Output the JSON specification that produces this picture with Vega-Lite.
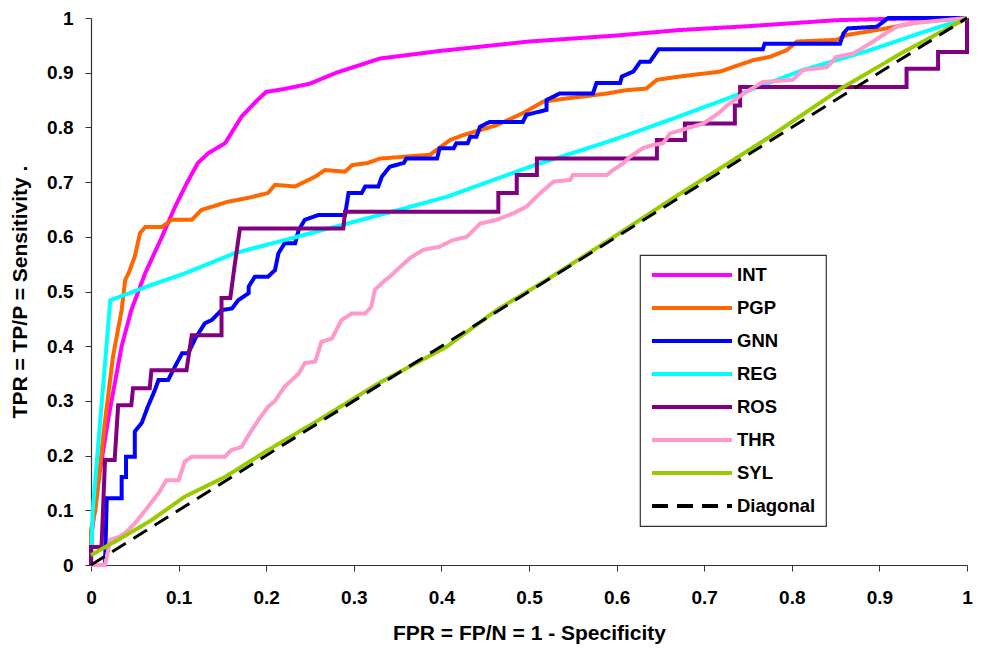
{
  "$schema": "https://vega.github.io/schema/vega-lite/v6.json",
  "width": 876,
  "height": 547,
  "autosize": {"type": "none"},
  "padding": {"left": 91, "top": 18, "right": 14, "bottom": 87},
  "background": "#ffffff",
  "config": {
    "view": {"stroke": null},
    "font": "Liberation Sans",
    "axis": {
      "grid": false,
      "labelFlush": false,
      "domainColor": "#333333",
      "domainWidth": 1.2,
      "tickColor": "#333333",
      "tickSize": 6,
      "labelFont": "Liberation Sans",
      "labelFontWeight": "bold",
      "labelFontSize": 19,
      "labelColor": "#000000",
      "titleFont": "Liberation Sans",
      "titleFontWeight": "bold",
      "titleFontSize": 21,
      "titleColor": "#000000"
    },
    "legend": {
      "orient": "none",
      "legendX": 549,
      "legendY": 237,
      "strokeColor": "#333333",
      "strokeWidth": 1.2,
      "fillColor": "#ffffff",
      "padding": 10,
      "symbolType": "stroke",
      "symbolSize": 6400,
      "symbolStrokeWidth": 4,
      "clipHeight": 20,
      "labelFont": "Liberation Sans",
      "labelFontWeight": "bold",
      "labelFontSize": 18.5,
      "labelColor": "#000000",
      "labelOffset": 3,
      "rowPadding": 13,
      "title": null
    }
  },
  "data": {
    "values": [
      {"model":"INT","i":0,"x":0,"y":0},{"model":"INT","i":1,"x":0.001,"y":0.06},{"model":"INT","i":2,"x":0.01,"y":0.17},{"model":"INT","i":3,"x":0.02,"y":0.27},{"model":"INT","i":4,"x":0.035,"y":0.4},{"model":"INT","i":5,"x":0.046,"y":0.466},{"model":"INT","i":6,"x":0.062,"y":0.534},{"model":"INT","i":7,"x":0.081,"y":0.6},{"model":"INT","i":8,"x":0.096,"y":0.655},{"model":"INT","i":9,"x":0.11,"y":0.7},{"model":"INT","i":10,"x":0.122,"y":0.735},{"model":"INT","i":11,"x":0.134,"y":0.753},{"model":"INT","i":12,"x":0.153,"y":0.771},{"model":"INT","i":13,"x":0.172,"y":0.82},{"model":"INT","i":14,"x":0.19,"y":0.85},{"model":"INT","i":15,"x":0.2,"y":0.865},{"model":"INT","i":16,"x":0.22,"y":0.87},{"model":"INT","i":17,"x":0.25,"y":0.88},{"model":"INT","i":18,"x":0.28,"y":0.9},{"model":"INT","i":19,"x":0.33,"y":0.926},{"model":"INT","i":20,"x":0.4,"y":0.94},{"model":"INT","i":21,"x":0.5,"y":0.957},{"model":"INT","i":22,"x":0.6,"y":0.968},{"model":"INT","i":23,"x":0.672,"y":0.978},{"model":"INT","i":24,"x":0.75,"y":0.985},{"model":"INT","i":25,"x":0.851,"y":0.996},{"model":"INT","i":26,"x":0.9,"y":0.998},{"model":"INT","i":27,"x":1,"y":1},

      {"model":"PGP","i":0,"x":0,"y":0},{"model":"PGP","i":1,"x":0,"y":0.064},{"model":"PGP","i":2,"x":0.005,"y":0.1},{"model":"PGP","i":3,"x":0.015,"y":0.25},{"model":"PGP","i":4,"x":0.025,"y":0.38},{"model":"PGP","i":5,"x":0.035,"y":0.466},{"model":"PGP","i":6,"x":0.039,"y":0.521},{"model":"PGP","i":7,"x":0.043,"y":0.534},{"model":"PGP","i":8,"x":0.05,"y":0.564},{"model":"PGP","i":9,"x":0.056,"y":0.607},{"model":"PGP","i":10,"x":0.062,"y":0.618},{"model":"PGP","i":11,"x":0.081,"y":0.618},{"model":"PGP","i":12,"x":0.092,"y":0.631},{"model":"PGP","i":13,"x":0.115,"y":0.631},{"model":"PGP","i":14,"x":0.126,"y":0.649},{"model":"PGP","i":15,"x":0.156,"y":0.664},{"model":"PGP","i":16,"x":0.179,"y":0.671},{"model":"PGP","i":17,"x":0.202,"y":0.68},{"model":"PGP","i":18,"x":0.21,"y":0.695},{"model":"PGP","i":19,"x":0.233,"y":0.692},{"model":"PGP","i":20,"x":0.256,"y":0.71},{"model":"PGP","i":21,"x":0.267,"y":0.722},{"model":"PGP","i":22,"x":0.29,"y":0.719},{"model":"PGP","i":23,"x":0.298,"y":0.731},{"model":"PGP","i":24,"x":0.316,"y":0.735},{"model":"PGP","i":25,"x":0.33,"y":0.743},{"model":"PGP","i":26,"x":0.387,"y":0.75},{"model":"PGP","i":27,"x":0.41,"y":0.777},{"model":"PGP","i":28,"x":0.425,"y":0.786},{"model":"PGP","i":29,"x":0.463,"y":0.804},{"model":"PGP","i":30,"x":0.493,"y":0.826},{"model":"PGP","i":31,"x":0.516,"y":0.847},{"model":"PGP","i":32,"x":0.543,"y":0.853},{"model":"PGP","i":33,"x":0.57,"y":0.858},{"model":"PGP","i":34,"x":0.589,"y":0.862},{"model":"PGP","i":35,"x":0.611,"y":0.868},{"model":"PGP","i":36,"x":0.634,"y":0.871},{"model":"PGP","i":37,"x":0.646,"y":0.887},{"model":"PGP","i":38,"x":0.672,"y":0.893},{"model":"PGP","i":39,"x":0.718,"y":0.902},{"model":"PGP","i":40,"x":0.756,"y":0.923},{"model":"PGP","i":41,"x":0.775,"y":0.929},{"model":"PGP","i":42,"x":0.794,"y":0.941},{"model":"PGP","i":43,"x":0.806,"y":0.957},{"model":"PGP","i":44,"x":0.851,"y":0.96},{"model":"PGP","i":45,"x":0.863,"y":0.969},{"model":"PGP","i":46,"x":0.908,"y":0.981},{"model":"PGP","i":47,"x":0.946,"y":0.993},{"model":"PGP","i":48,"x":1,"y":1},

      {"model":"GNN","i":0,"x":0,"y":0},{"model":"GNN","i":1,"x":0.016,"y":0},{"model":"GNN","i":2,"x":0.018,"y":0.122},{"model":"GNN","i":3,"x":0.035,"y":0.122},{"model":"GNN","i":4,"x":0.035,"y":0.161},{"model":"GNN","i":5,"x":0.04,"y":0.161},{"model":"GNN","i":6,"x":0.04,"y":0.198},{"model":"GNN","i":7,"x":0.05,"y":0.198},{"model":"GNN","i":8,"x":0.05,"y":0.244},{"model":"GNN","i":9,"x":0.058,"y":0.26},{"model":"GNN","i":10,"x":0.065,"y":0.29},{"model":"GNN","i":11,"x":0.073,"y":0.32},{"model":"GNN","i":12,"x":0.077,"y":0.338},{"model":"GNN","i":13,"x":0.088,"y":0.338},{"model":"GNN","i":14,"x":0.095,"y":0.36},{"model":"GNN","i":15,"x":0.104,"y":0.387},{"model":"GNN","i":16,"x":0.111,"y":0.387},{"model":"GNN","i":17,"x":0.119,"y":0.414},{"model":"GNN","i":18,"x":0.13,"y":0.442},{"model":"GNN","i":19,"x":0.138,"y":0.448},{"model":"GNN","i":20,"x":0.149,"y":0.466},{"model":"GNN","i":21,"x":0.161,"y":0.469},{"model":"GNN","i":22,"x":0.168,"y":0.484},{"model":"GNN","i":23,"x":0.18,"y":0.497},{"model":"GNN","i":24,"x":0.18,"y":0.509},{"model":"GNN","i":25,"x":0.187,"y":0.527},{"model":"GNN","i":26,"x":0.202,"y":0.527},{"model":"GNN","i":27,"x":0.21,"y":0.539},{"model":"GNN","i":28,"x":0.214,"y":0.57},{"model":"GNN","i":29,"x":0.221,"y":0.588},{"model":"GNN","i":30,"x":0.233,"y":0.588},{"model":"GNN","i":31,"x":0.237,"y":0.612},{"model":"GNN","i":32,"x":0.244,"y":0.631},{"model":"GNN","i":33,"x":0.26,"y":0.64},{"model":"GNN","i":34,"x":0.29,"y":0.64},{"model":"GNN","i":35,"x":0.294,"y":0.68},{"model":"GNN","i":36,"x":0.309,"y":0.68},{"model":"GNN","i":37,"x":0.313,"y":0.692},{"model":"GNN","i":38,"x":0.328,"y":0.692},{"model":"GNN","i":39,"x":0.332,"y":0.71},{"model":"GNN","i":40,"x":0.341,"y":0.728},{"model":"GNN","i":41,"x":0.357,"y":0.735},{"model":"GNN","i":42,"x":0.36,"y":0.743},{"model":"GNN","i":43,"x":0.395,"y":0.743},{"model":"GNN","i":44,"x":0.398,"y":0.762},{"model":"GNN","i":45,"x":0.414,"y":0.762},{"model":"GNN","i":46,"x":0.417,"y":0.771},{"model":"GNN","i":47,"x":0.43,"y":0.771},{"model":"GNN","i":48,"x":0.433,"y":0.783},{"model":"GNN","i":49,"x":0.44,"y":0.783},{"model":"GNN","i":50,"x":0.444,"y":0.801},{"model":"GNN","i":51,"x":0.455,"y":0.81},{"model":"GNN","i":52,"x":0.493,"y":0.81},{"model":"GNN","i":53,"x":0.497,"y":0.823},{"model":"GNN","i":54,"x":0.52,"y":0.832},{"model":"GNN","i":55,"x":0.52,"y":0.85},{"model":"GNN","i":56,"x":0.535,"y":0.862},{"model":"GNN","i":57,"x":0.573,"y":0.862},{"model":"GNN","i":58,"x":0.577,"y":0.881},{"model":"GNN","i":59,"x":0.604,"y":0.881},{"model":"GNN","i":60,"x":0.606,"y":0.893},{"model":"GNN","i":61,"x":0.619,"y":0.902},{"model":"GNN","i":62,"x":0.627,"y":0.92},{"model":"GNN","i":63,"x":0.638,"y":0.92},{"model":"GNN","i":64,"x":0.648,"y":0.943},{"model":"GNN","i":65,"x":0.767,"y":0.943},{"model":"GNN","i":66,"x":0.769,"y":0.953},{"model":"GNN","i":67,"x":0.855,"y":0.953},{"model":"GNN","i":68,"x":0.859,"y":0.972},{"model":"GNN","i":69,"x":0.864,"y":0.981},{"model":"GNN","i":70,"x":0.897,"y":0.984},{"model":"GNN","i":71,"x":0.91,"y":1},{"model":"GNN","i":72,"x":1,"y":1},

      {"model":"REG","i":0,"x":0,"y":0},{"model":"REG","i":1,"x":0.002,"y":0.1},{"model":"REG","i":2,"x":0.022,"y":0.484},{"model":"REG","i":3,"x":0.069,"y":0.512},{"model":"REG","i":4,"x":0.107,"y":0.533},{"model":"REG","i":5,"x":0.164,"y":0.57},{"model":"REG","i":6,"x":0.221,"y":0.594},{"model":"REG","i":7,"x":0.33,"y":0.64},{"model":"REG","i":8,"x":0.406,"y":0.673},{"model":"REG","i":9,"x":0.501,"y":0.728},{"model":"REG","i":10,"x":0.596,"y":0.777},{"model":"REG","i":11,"x":0.661,"y":0.814},{"model":"REG","i":12,"x":0.737,"y":0.859},{"model":"REG","i":13,"x":0.813,"y":0.905},{"model":"REG","i":14,"x":0.889,"y":0.941},{"model":"REG","i":15,"x":0.946,"y":0.972},{"model":"REG","i":16,"x":1,"y":1},

      {"model":"ROS","i":0,"x":0,"y":0},{"model":"ROS","i":1,"x":0,"y":0.033},{"model":"ROS","i":2,"x":0.012,"y":0.033},{"model":"ROS","i":3,"x":0.016,"y":0.192},{"model":"ROS","i":4,"x":0.027,"y":0.192},{"model":"ROS","i":5,"x":0.031,"y":0.292},{"model":"ROS","i":6,"x":0.046,"y":0.292},{"model":"ROS","i":7,"x":0.048,"y":0.323},{"model":"ROS","i":8,"x":0.067,"y":0.323},{"model":"ROS","i":9,"x":0.069,"y":0.356},{"model":"ROS","i":10,"x":0.109,"y":0.356},{"model":"ROS","i":11,"x":0.115,"y":0.42},{"model":"ROS","i":12,"x":0.149,"y":0.42},{"model":"ROS","i":13,"x":0.149,"y":0.488},{"model":"ROS","i":14,"x":0.159,"y":0.488},{"model":"ROS","i":15,"x":0.164,"y":0.548},{"model":"ROS","i":16,"x":0.17,"y":0.615},{"model":"ROS","i":17,"x":0.288,"y":0.615},{"model":"ROS","i":18,"x":0.29,"y":0.646},{"model":"ROS","i":19,"x":0.465,"y":0.646},{"model":"ROS","i":20,"x":0.465,"y":0.68},{"model":"ROS","i":21,"x":0.486,"y":0.68},{"model":"ROS","i":22,"x":0.486,"y":0.713},{"model":"ROS","i":23,"x":0.509,"y":0.713},{"model":"ROS","i":24,"x":0.509,"y":0.743},{"model":"ROS","i":25,"x":0.646,"y":0.743},{"model":"ROS","i":26,"x":0.646,"y":0.777},{"model":"ROS","i":27,"x":0.678,"y":0.777},{"model":"ROS","i":28,"x":0.678,"y":0.807},{"model":"ROS","i":29,"x":0.735,"y":0.807},{"model":"ROS","i":30,"x":0.735,"y":0.84},{"model":"ROS","i":31,"x":0.741,"y":0.84},{"model":"ROS","i":32,"x":0.741,"y":0.874},{"model":"ROS","i":33,"x":0.931,"y":0.874},{"model":"ROS","i":34,"x":0.931,"y":0.907},{"model":"ROS","i":35,"x":0.967,"y":0.907},{"model":"ROS","i":36,"x":0.967,"y":0.938},{"model":"ROS","i":37,"x":1,"y":0.938},{"model":"ROS","i":38,"x":1,"y":1},

      {"model":"THR","i":0,"x":0,"y":0},{"model":"THR","i":1,"x":0.016,"y":0},{"model":"THR","i":2,"x":0.022,"y":0.046},{"model":"THR","i":3,"x":0.033,"y":0.052},{"model":"THR","i":4,"x":0.04,"y":0.06},{"model":"THR","i":5,"x":0.05,"y":0.076},{"model":"THR","i":6,"x":0.062,"y":0.1},{"model":"THR","i":7,"x":0.077,"y":0.131},{"model":"THR","i":8,"x":0.086,"y":0.155},{"model":"THR","i":9,"x":0.1,"y":0.155},{"model":"THR","i":10,"x":0.107,"y":0.189},{"model":"THR","i":11,"x":0.115,"y":0.198},{"model":"THR","i":12,"x":0.153,"y":0.198},{"model":"THR","i":13,"x":0.16,"y":0.21},{"model":"THR","i":14,"x":0.172,"y":0.216},{"model":"THR","i":15,"x":0.18,"y":0.238},{"model":"THR","i":16,"x":0.191,"y":0.265},{"model":"THR","i":17,"x":0.202,"y":0.289},{"model":"THR","i":18,"x":0.21,"y":0.3},{"model":"THR","i":19,"x":0.221,"y":0.326},{"model":"THR","i":20,"x":0.237,"y":0.35},{"model":"THR","i":21,"x":0.244,"y":0.369},{"model":"THR","i":22,"x":0.256,"y":0.372},{"model":"THR","i":23,"x":0.263,"y":0.408},{"model":"THR","i":24,"x":0.275,"y":0.414},{"model":"THR","i":25,"x":0.286,"y":0.448},{"model":"THR","i":26,"x":0.298,"y":0.46},{"model":"THR","i":27,"x":0.313,"y":0.46},{"model":"THR","i":28,"x":0.32,"y":0.472},{"model":"THR","i":29,"x":0.324,"y":0.503},{"model":"THR","i":30,"x":0.336,"y":0.521},{"model":"THR","i":31,"x":0.341,"y":0.527},{"model":"THR","i":32,"x":0.353,"y":0.545},{"model":"THR","i":33,"x":0.364,"y":0.561},{"model":"THR","i":34,"x":0.379,"y":0.576},{"model":"THR","i":35,"x":0.398,"y":0.582},{"model":"THR","i":36,"x":0.413,"y":0.594},{"model":"THR","i":37,"x":0.429,"y":0.6},{"model":"THR","i":38,"x":0.444,"y":0.624},{"model":"THR","i":39,"x":0.463,"y":0.631},{"model":"THR","i":40,"x":0.482,"y":0.643},{"model":"THR","i":41,"x":0.497,"y":0.655},{"model":"THR","i":42,"x":0.513,"y":0.68},{"model":"THR","i":43,"x":0.528,"y":0.701},{"model":"THR","i":44,"x":0.547,"y":0.704},{"model":"THR","i":45,"x":0.55,"y":0.713},{"model":"THR","i":46,"x":0.589,"y":0.713},{"model":"THR","i":47,"x":0.596,"y":0.722},{"model":"THR","i":48,"x":0.608,"y":0.735},{"model":"THR","i":49,"x":0.615,"y":0.746},{"model":"THR","i":50,"x":0.63,"y":0.762},{"model":"THR","i":51,"x":0.642,"y":0.768},{"model":"THR","i":52,"x":0.653,"y":0.771},{"model":"THR","i":53,"x":0.661,"y":0.789},{"model":"THR","i":54,"x":0.68,"y":0.798},{"model":"THR","i":55,"x":0.699,"y":0.807},{"model":"THR","i":56,"x":0.71,"y":0.819},{"model":"THR","i":57,"x":0.718,"y":0.828},{"model":"THR","i":58,"x":0.726,"y":0.84},{"model":"THR","i":59,"x":0.745,"y":0.862},{"model":"THR","i":60,"x":0.767,"y":0.883},{"model":"THR","i":61,"x":0.801,"y":0.887},{"model":"THR","i":62,"x":0.813,"y":0.905},{"model":"THR","i":63,"x":0.84,"y":0.91},{"model":"THR","i":64,"x":0.851,"y":0.929},{"model":"THR","i":65,"x":0.87,"y":0.935},{"model":"THR","i":66,"x":0.889,"y":0.953},{"model":"THR","i":67,"x":0.904,"y":0.969},{"model":"THR","i":68,"x":0.92,"y":0.984},{"model":"THR","i":69,"x":0.935,"y":0.99},{"model":"THR","i":70,"x":0.954,"y":0.993},{"model":"THR","i":71,"x":1,"y":1},

      {"model":"SYL","i":0,"x":0,"y":0.018},{"model":"SYL","i":1,"x":0.031,"y":0.046},{"model":"SYL","i":2,"x":0.069,"y":0.082},{"model":"SYL","i":3,"x":0.107,"y":0.125},{"model":"SYL","i":4,"x":0.153,"y":0.161},{"model":"SYL","i":5,"x":0.202,"y":0.21},{"model":"SYL","i":6,"x":0.26,"y":0.265},{"model":"SYL","i":7,"x":0.328,"y":0.332},{"model":"SYL","i":8,"x":0.406,"y":0.399},{"model":"SYL","i":9,"x":0.463,"y":0.466},{"model":"SYL","i":10,"x":0.52,"y":0.521},{"model":"SYL","i":11,"x":0.6,"y":0.603},{"model":"SYL","i":12,"x":0.661,"y":0.667},{"model":"SYL","i":13,"x":0.775,"y":0.783},{"model":"SYL","i":14,"x":0.859,"y":0.874},{"model":"SYL","i":15,"x":0.93,"y":0.94},{"model":"SYL","i":16,"x":1,"y":1},

      {"model":"Diagonal","i":0,"x":0,"y":0},{"model":"Diagonal","i":1,"x":1,"y":1}
    ]
  },
  "encoding": {
    "x": {
      "field": "x", "type": "quantitative",
      "scale": {"domain": [0, 1], "nice": false},
      "axis": {"values": [0,0.1,0.2,0.3,0.4,0.5,0.6,0.7,0.8,0.9,1], "format": "~g", "title": "FPR = FP/N = 1 - Specificity", "labelPadding": 17, "titlePadding": 15}
    },
    "y": {
      "field": "y", "type": "quantitative",
      "scale": {"domain": [0, 1], "nice": false},
      "axis": {"values": [0,0.1,0.2,0.3,0.4,0.5,0.6,0.7,0.8,0.9,1], "format": "~g", "title": "TPR = TP/P = Sensitivity .", "labelPadding": 12, "titlePadding": 16}
    },
    "color": {
      "field": "model", "type": "nominal",
      "scale": {
        "domain": ["INT","PGP","GNN","REG","ROS","THR","SYL","Diagonal"],
        "range": ["#ff00ff","#ff6600","#0000ff","#00ffff","#800080","#ff99cc","#99cc00","#000000"]
      }
    },
    "strokeDash": {
      "field": "model", "type": "nominal",
      "scale": {
        "domain": ["INT","PGP","GNN","REG","ROS","THR","SYL","Diagonal"],
        "range": [[1,0],[1,0],[1,0],[1,0],[1,0],[1,0],[1,0],[16,9]]
      }
    },
    "order": {"field": "i", "type": "quantitative"}
  },
  "layer": [
    {
      "transform": [{"filter": "datum.model !== 'Diagonal'"}],
      "mark": {"type": "line", "strokeWidth": 4, "strokeJoin": "miter", "strokeCap": "butt"}
    },
    {
      "transform": [{"filter": "datum.model === 'Diagonal'"}],
      "mark": {"type": "line", "strokeWidth": 3, "strokeCap": "butt"}
    }
  ]
}
